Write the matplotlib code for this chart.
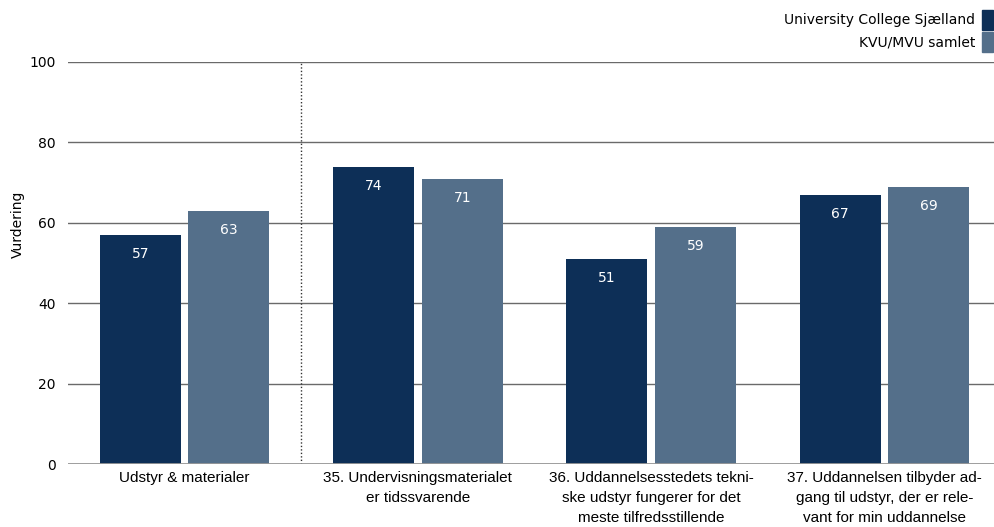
import numpy as np
import matplotlib.pyplot as plt
from matplotlib.patches import Rectangle

categories = [
    "Udstyr & materialer",
    "35. Undervisningsmaterialet\ner tidssvarende",
    "36. Uddannelsesstedets tekni-\nske udstyr fungerer for det\nmeste tilfredsstillende",
    "37. Uddannelsen tilbyder ad-\ngang til udstyr, der er rele-\nvant for min uddannelse",
]
series_names = ["University College Sjælland", "KVU/MVU samlet"]
ucs = [57, 74, 51, 67]
kvu = [63, 71, 59, 69]
colors = ["#0d2f57", "#546f8a"]

plt.rcParams["font.family"] = ["DejaVu Sans"]

fig = plt.figure(figsize=(9.95, 5.27), dpi=100)
ax = fig.add_axes([68 / 995, (527 - 464) / 527, (1001 - 68) / 995, (464 - 62) / 527])

x = np.arange(len(categories))
w = 0.347
off = 0.19
for vals, dx, c in [(ucs, -off, colors[0]), (kvu, off, colors[1])]:
    bars = ax.bar(x + dx, vals, width=w, color=c, zorder=3)
    for b, v in zip(bars, vals):
        ax.text(b.get_x() + b.get_width() / 2, v - 4.8, f"{v}", ha="center", va="center",
                color="white", fontsize=10, zorder=4)

ax.set_xlim(-0.5, 3.5)
ax.set_ylim(0, 100)
ax.set_yticks([0, 20, 40, 60, 80, 100])
ax.yaxis.grid(True, color="#6a6a6a", linewidth=1, zorder=0)
ax.axhline(0, color="#999999", linewidth=2, zorder=5)
ax.axvline(0.5, color="#333333", linestyle=(0, (1, 1.5)), linewidth=1, zorder=2)
for s in ax.spines.values():
    s.set_visible(False)
ax.tick_params(axis="y", length=0, labelsize=10, pad=9)
ax.tick_params(axis="x", length=0, pad=5)
ax.set_xticks(x)
ax.set_xticklabels(categories, fontsize=11, linespacing=1.55, va="top",
                   family=["Liberation Sans"])
ax.set_ylabel("Vurdering", fontsize=10)
ax.yaxis.set_label_coords(-0.046, 0.595)

# legend in the top right corner
for i, (name, c) in enumerate(zip(series_names, colors)):
    yc = 1 - (20 + i * 22) / 527
    fig.text(975 / 995, yc, name, ha="right", va="center", fontsize=10)
    fig.patches.append(Rectangle((982 / 995, yc - 10 / 527), 11 / 995, 20 / 527,
                                 transform=fig.transFigure, color=c))

fig.savefig("out.png", dpi=100)
